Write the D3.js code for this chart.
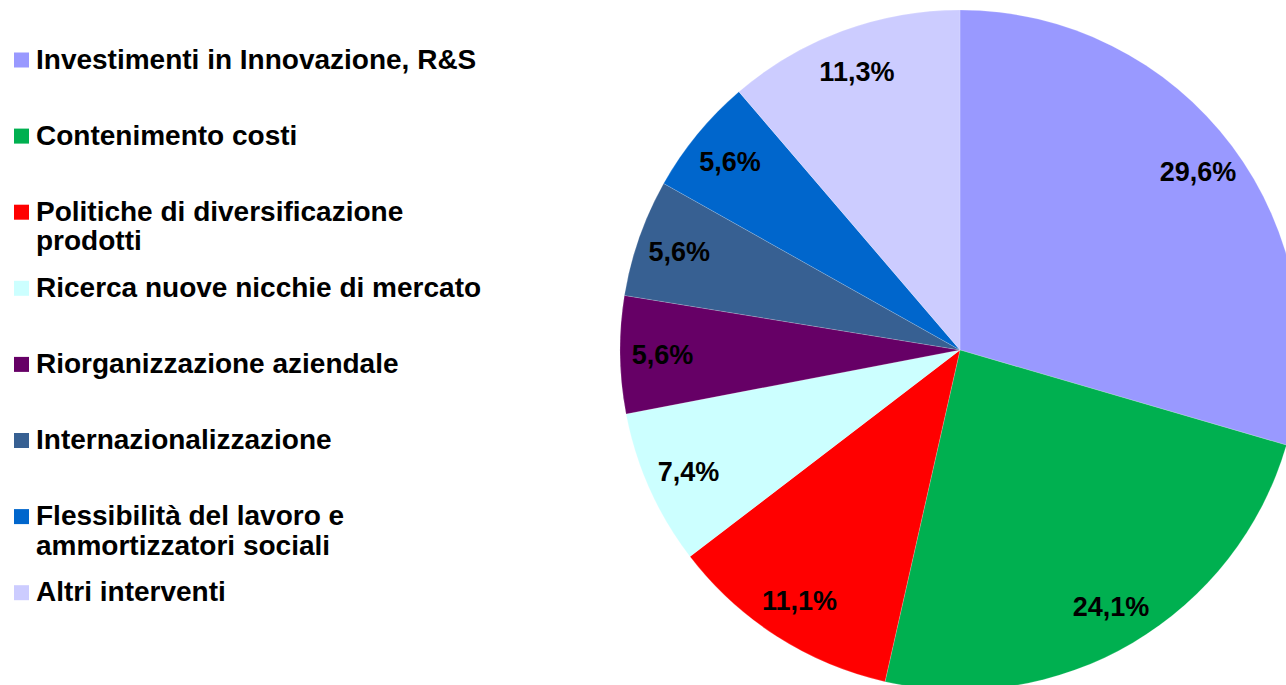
<!DOCTYPE html>
<html>
<head>
<meta charset="utf-8">
<script src="https://cdn.jsdelivr.net/npm/d3@7"></script>
<style>
  html, body { margin: 0; padding: 0; background: #fff; overflow: hidden; }
  svg { display: block; }
  text { font-family: "Liberation Sans", Arial, sans-serif; font-weight: bold; fill: #000; }
</style>
</head>
<body>
<svg id="chart" width="1286" height="685"></svg>
<script>
const categories = [
  "Investimenti in Innovazione, R&S",
  "Contenimento costi",
  "Politiche di diversificazione prodotti",
  "Ricerca nuove nicchie di mercato",
  "Riorganizzazione aziendale",
  "Internazionalizzazione",
  "Flessibilità del lavoro e ammortizzatori sociali",
  "Altri interventi"
];
const legendLines = [
  ["Investimenti in Innovazione, R&S"],
  ["Contenimento costi"],
  ["Politiche di diversificazione", "prodotti"],
  ["Ricerca nuove nicchie di mercato"],
  ["Riorganizzazione aziendale"],
  ["Internazionalizzazione"],
  ["Flessibilità del lavoro e", "ammortizzatori sociali"],
  ["Altri interventi"]
];
const values = [29.6, 24.1, 11.1, 7.4, 5.6, 5.6, 5.6, 11.3];
const labels = ["29,6%", "24,1%", "11,1%", "7,4%", "5,6%", "5,6%", "5,6%", "11,3%"];
const colors = ["#9999FF", "#00B050", "#FF0000", "#CCFFFF", "#660066", "#376092", "#0066CC", "#CCCCFF"];

const svg = d3.select("#chart");
const cx = 960, cy = 350, R = 340;

const color = d3.scaleOrdinal().domain(categories).range(colors);
const data = categories.map((c, i) => ({ cat: c, value: values[i], label: labels[i], lines: legendLines[i] }));

const pie = d3.pie().value(d => d.value).sort(null);
const arc = d3.arc().innerRadius(0).outerRadius(R);
const labelArc = d3.arc().innerRadius(R * 0.875).outerRadius(R * 0.875);

const g = svg.append("g").attr("transform", `translate(${cx},${cy})`);
const arcs = pie(data);

g.selectAll("path.slice")
  .data(arcs)
  .join("path")
  .attr("class", "slice")
  .attr("d", arc)
  .attr("fill", d => color(d.data.cat))
  .attr("stroke", "rgba(255,255,255,0.35)")
  .attr("stroke-width", 0.5);

g.selectAll("text.lbl")
  .data(arcs)
  .join("text")
  .attr("class", "lbl")
  .attr("transform", d => `translate(${labelArc.centroid(d)})`)
  .attr("text-anchor", "middle")
  .attr("dy", "0.36em")
  .style("font-size", "27px")
  .text(d => d.data.label);

// Legend
const legend = svg.append("g").attr("class", "legend");
const firstBaseline = 68.5, step = 76.1, lineH = 29.5;
const items = legend.selectAll("g.item")
  .data(data)
  .join("g")
  .attr("class", "item")
  .attr("transform", (d, i) => `translate(0,${firstBaseline + i * step})`);

items.append("rect")
  .attr("x", 14)
  .attr("y", -16)
  .attr("width", 15)
  .attr("height", 15)
  .attr("fill", d => color(d.cat));

items.append("text")
  .attr("x", 36)
  .attr("y", 0)
  .style("font-size", "28px")
  .selectAll("tspan")
  .data(d => d.lines)
  .join("tspan")
  .attr("x", 36)
  .attr("dy", (d, i) => i === 0 ? 0 : lineH)
  .text(d => d);
</script>
</body>
</html>
